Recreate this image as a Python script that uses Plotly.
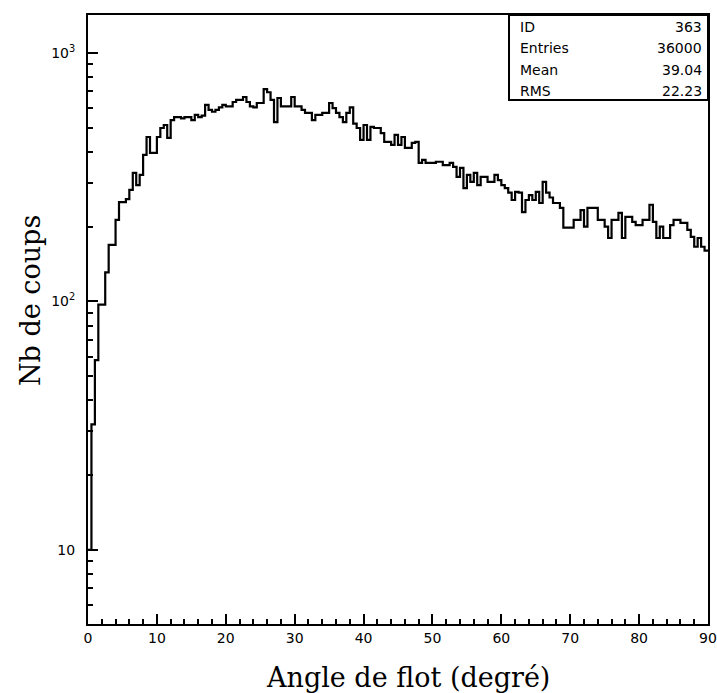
import numpy as np
import plotly.graph_objects as go

# ---- data (0.5 degree bins from 0 to 90) ----
bin_width = 0.5
x_min = 0.0
counts = [
    10, 32, 58, 97, 97, 131, 169, 169, 213, 251,
    251, 258, 281, 329, 294, 323, 389, 459, 396, 396,
    459, 499, 513, 455, 537, 552, 552, 545, 552, 552,
    537, 563, 552, 560, 618, 590, 580, 590, 604, 618,
    610, 610, 635, 647, 647, 665, 635, 610, 604, 629,
    629, 716, 695, 647, 527, 659, 610, 610, 610, 665,
    610, 610, 590, 574, 574, 537, 563, 563, 574, 574,
    629, 600, 574, 552, 527, 574, 604, 520, 499, 447,
    513, 447, 504, 499, 499, 476, 439, 439, 427, 468,
    427, 459, 415, 415, 435, 439, 361, 371, 361, 361,
    361, 365, 365, 354, 354, 361, 348, 317, 345, 286,
    323, 303, 329, 294, 317, 317, 303, 303, 323, 308,
    294, 286, 274, 256, 276, 274, 229, 256, 268, 256,
    276, 249, 303, 274, 262, 249, 249, 238, 198, 198,
    198, 213, 213, 233, 200, 238, 238, 238, 213, 213,
    200, 180, 213, 213, 227, 180, 219, 219, 209, 203,
    203, 213, 213, 245, 209, 180, 200, 180, 180, 203,
    213, 213, 207, 207, 194, 182, 166, 180, 166, 160,
]

x_tick_vals = [0, 10, 20, 30, 40, 50, 60, 70, 80, 90]
y_tick_vals = [10, 100, 1000]
y_tick_text = ["10", "10<sup>2</sup>", "10<sup>3</sup>"]
y_minor_vals = [6, 7, 8, 9, 20, 30, 40, 50, 60, 70, 80, 90,
                200, 300, 400, 500, 600, 700, 800, 900]

stats_labels = ["ID", "Entries", "Mean", "RMS"]
stats_values = ["363", "36000", "39.04", "22.23"]

x_title = "Angle de flot (degré)"
y_title = "Nb de coups"

# ---- build step outline ----
n = len(counts)
edges = x_min + bin_width * np.arange(n + 1)
xs = list(edges)
ys = list(counts) + [counts[-1]]

fig = go.Figure()
fig.add_trace(go.Scatter(
    x=xs, y=ys, mode="lines", line_shape="hv",
    line=dict(color="black", width=2.2), showlegend=False,
    hoverinfo="skip",
))

W, H = 717, 693
L, R, T, B = 88, 9, 15, 69
plot_w = W - L - R
plot_h = H - T - B

tick_font = dict(family="DejaVu Sans", size=14, color="black")
title_font = dict(family="DejaVu Serif", size=27, color="black")

fig.update_layout(
    width=W, height=H,
    margin=dict(l=L, r=R, t=T, b=B, autoexpand=False),
    paper_bgcolor="white", plot_bgcolor="white",
    showlegend=False,
)

fig.update_xaxes(
    range=[0, 90], showgrid=False, zeroline=False, automargin=False,
    showline=True, linecolor="black", linewidth=2, mirror=True,
    ticks="inside", ticklen=10, tickwidth=1.5, tickcolor="black",
    tickmode="array", tickvals=x_tick_vals, tickfont=tick_font,
    ticklabeloverflow="allow",
    minor=dict(ticks="inside", ticklen=5, tickwidth=1.5, tickcolor="black",
               dtick=2, tick0=0, showgrid=False),
)

fig.update_yaxes(
    type="log", range=[np.log10(5.03), np.log10(1422)],
    showgrid=False, zeroline=False, automargin=False,
    showline=True, linecolor="black", linewidth=2, mirror=True,
    ticks="inside", ticklen=10, tickwidth=1.5, tickcolor="black",
    tickmode="array", tickvals=y_tick_vals, ticktext=y_tick_text,
    tickfont=tick_font, ticklabelstandoff=8,
    minor=dict(ticks="inside", ticklen=5, tickwidth=1.5, tickcolor="black",
               tickmode="array", tickvals=y_minor_vals, showgrid=False),
)

# ---- axis titles ----
fig.add_annotation(x=(408 - L) / plot_w, y=(H - B - 677) / plot_h,
                   xref="paper", yref="paper", text=x_title,
                   showarrow=False, xanchor="center", yanchor="middle",
                   font=title_font)
fig.add_annotation(x=(30 - L) / plot_w, y=(H - B - 301) / plot_h,
                   xref="paper", yref="paper", text=y_title, textangle=-90,
                   showarrow=False, xanchor="center", yanchor="middle",
                   font=title_font)

# ---- statistics box ----
box_x0 = (509 - L) / plot_w
box_y0 = (H - B - 100) / plot_h
fig.add_shape(type="rect", xref="paper", yref="paper",
              x0=box_x0, x1=1, y0=box_y0, y1=1,
              line=dict(color="black", width=2), fillcolor="white")

row_px = [27, 48, 70, 91]
box_font = dict(family="DejaVu Sans", size=14, color="black")
for lab, val, py in zip(stats_labels, stats_values, row_px):
    yp = (H - B - py) / plot_h
    fig.add_annotation(x=box_x0, y=yp, xref="paper", yref="paper",
                       text=lab, showarrow=False, xanchor="left",
                       yanchor="middle", xshift=9, font=box_font)
    fig.add_annotation(x=1, y=yp, xref="paper", yref="paper",
                       text=val, showarrow=False, xanchor="right",
                       yanchor="middle", xshift=-4, font=box_font)

fig.write_html(
    "out.html",
    config={"displayModeBar": False},
    post_script="document.body.style.margin='0';"
                "document.body.style.padding='0';"
                "document.body.style.overflow='hidden';",
)
